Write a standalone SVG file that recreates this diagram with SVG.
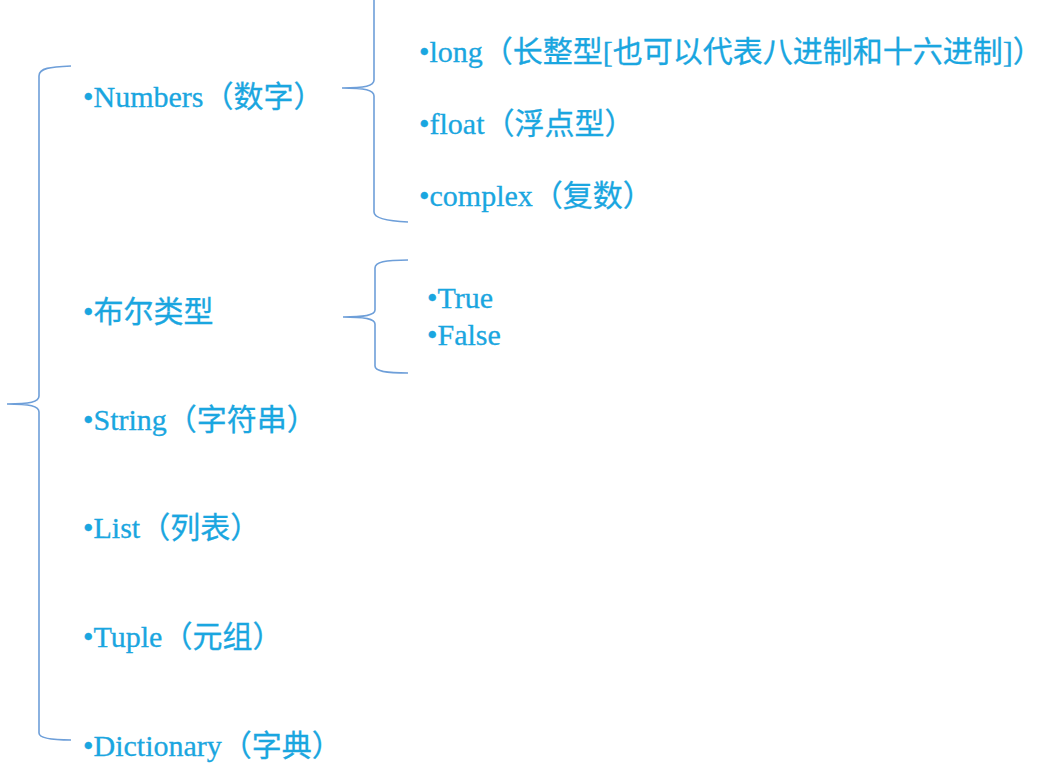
<svg xmlns="http://www.w3.org/2000/svg" width="1053" height="765" viewBox="0 0 1053 765">
<style>
.t{font-family:"Liberation Serif","Noto Sans CJK SC",serif;font-size:30px;fill:#1aa6e0;stroke:#1aa6e0;stroke-width:0.3}
.b{fill:none;stroke:#6e9fd9;stroke-width:1.6}
</style>
<rect width="1053" height="765" fill="#fff"/>
<g id="connectors">
<path class="b" d="M71,66 C50,67 39,68 39,76 L39,396 C39,402 30,404 7,404 C30,404 39,406 39,412 L39,733 C39,738 50,740 71,740"/>
<path class="b" d="M374,0 L374,80 C374,86 365,88 342,88 C365,88 374,90 374,96 L374,212 C374,218 385,221 408,222"/>
<path class="b" d="M408,260 C385,260 375,262 375,268 L375,310 C375,315 365,317 343,317 C365,317 375,319 375,324 L375,366 C375,371 385,373 408,373"/>
</g>
<g id="numbers"><text class="t" x="83" y="107">•Numbers（数字）</text></g>
<g id="long"><text class="t" x="419" y="62">•long（长整型[也可以代表八进制和十六进制]）</text></g>
<g id="float"><text class="t" x="419" y="134">•float（浮点型）</text></g>
<g id="complex"><text class="t" x="419" y="206">•complex（复数）</text></g>
<g id="bool"><text class="t" x="83" y="322">•布尔类型</text></g>
<g id="true"><text class="t" x="427" y="308">•True</text></g>
<g id="false"><text class="t" x="427" y="345">•False</text></g>
<g id="string"><text class="t" x="83" y="430">•String（字符串）</text></g>
<g id="list"><text class="t" x="83" y="538">•List（列表）</text></g>
<g id="tuple"><text class="t" x="83" y="647">•Tuple（元组）</text></g>
<g id="dictionary"><text class="t" x="83" y="756">•Dictionary（字典）</text></g>
</svg>
